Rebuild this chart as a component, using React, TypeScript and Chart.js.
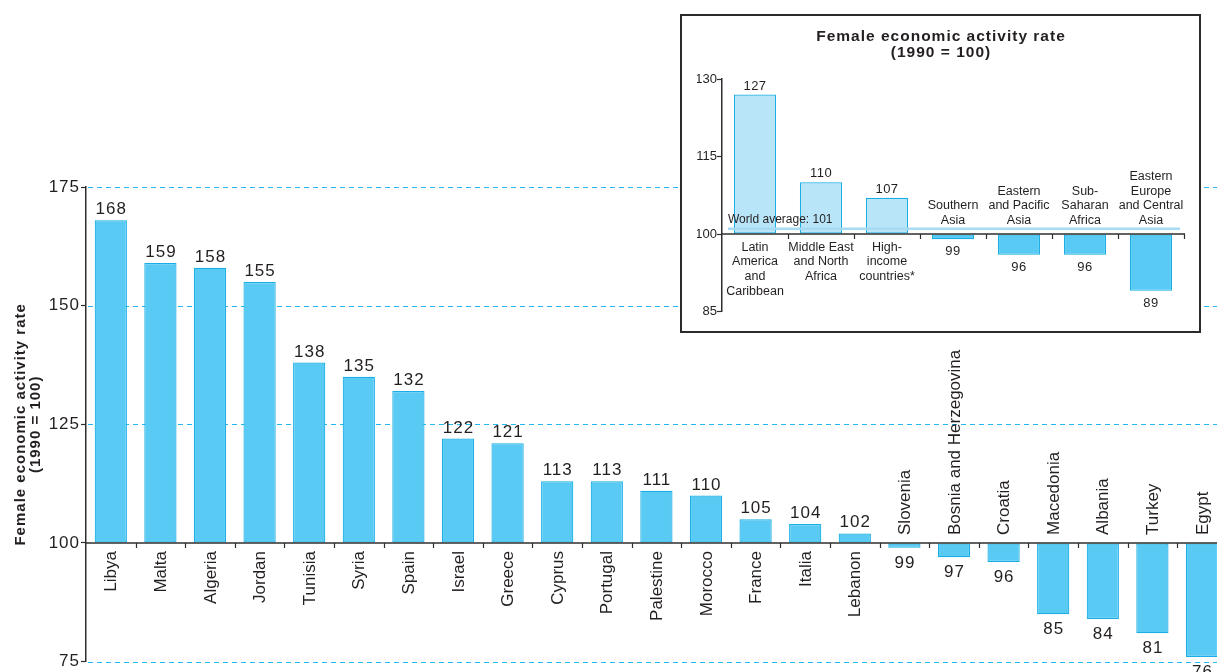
import React, { useEffect, useRef } from 'react';
import { Chart, registerables } from 'chart.js';

Chart.register(...registerables);

const FONT = '"Liberation Sans", Arial, Helvetica, sans-serif';
const TEXT = '#231f20';
const AXIS = '#2e2e2e';
const BAR_FILL = '#58caf4';
const BAR_BORDER = '#1aaee4';
const LIGHT_FILL = '#b9e5f9';
const GRID = '#22b8f0';
const AVG_LINE = '#a6dbf3';

// ---- main chart data ----
const countries = [
  'Libya', 'Malta', 'Algeria', 'Jordan', 'Tunisia', 'Syria', 'Spain', 'Israel',
  'Greece', 'Cyprus', 'Portugal', 'Palestine', 'Morocco', 'France', 'Italia',
  'Lebanon', 'Slovenia', 'Bosnia and Herzegovina', 'Croatia', 'Macedonia',
  'Albania', 'Turkey', 'Egypt',
];
const countryValues = [
  168, 159, 158, 155, 138, 135, 132, 122, 121, 113, 113, 111, 110, 105, 104,
  102, 99, 97, 96, 85, 84, 81, 76,
];
const mainTicks = [75, 100, 125, 150, 175];
const baseValue = 100;
const mainAxisTitle = ['Female economic activity rate', '(1990 = 100)'];

// ---- inset chart data ----
const regions = [
  ['Latin', 'America', 'and', 'Caribbean'],
  ['Middle East', 'and North', 'Africa'],
  ['High-', 'income', 'countries*'],
  ['Southern', 'Asia'],
  ['Eastern', 'and Pacific', 'Asia'],
  ['Sub-', 'Saharan', 'Africa'],
  ['Eastern', 'Europe', 'and Central', 'Asia'],
];
const regionValues = [127, 110, 107, 99, 96, 96, 89];
const insetTicks = [85, 100, 115, 130];
const worldAverage = 101;
const insetTitle = ['Female economic activity rate', '(1990 = 100)'];

const mainLabelsPlugin = {
  id: 'mainLabels',
  beforeDraw(chart: any) {
    chart.ctx.letterSpacing = '1px';
  },
  beforeDatasetsDraw(chart: any) {
    const { ctx, chartArea } = chart;
    const y = chart.scales.y;
    ctx.save();
    ctx.strokeStyle = GRID;
    ctx.lineWidth = 1;
    ctx.setLineDash([5, 4]);
    mainTicks.forEach((t) => {
      if (t === baseValue) return;
      const py = Math.round(y.getPixelForValue(t)) + 0.5;
      ctx.beginPath();
      ctx.moveTo(chartArea.left + 2, py);
      ctx.lineTo(chartArea.right, py);
      ctx.stroke();
    });
    ctx.restore();
  },
  afterDatasetsDraw(chart: any) {
    const { ctx, chartArea } = chart;
    const x = chart.scales.x;
    const y = chart.scales.y;
    const y0 = y.getPixelForValue(baseValue);
    ctx.save();
    ctx.strokeStyle = AXIS;
    ctx.lineWidth = 1.5;
    ctx.beginPath();
    ctx.moveTo(chartArea.left, y0);
    ctx.lineTo(chartArea.right, y0);
    ctx.stroke();
    const slot = (chartArea.right - chartArea.left) / countries.length;
    ctx.lineWidth = 1.2;
    ctx.beginPath();
    for (let k = 1; k <= countries.length; k++) {
      const tx = Math.round(chartArea.left + k * slot) + 0.5;
      ctx.moveTo(tx, y0);
      ctx.lineTo(tx, y0 + 5);
    }
    ctx.stroke();
    ctx.fillStyle = TEXT;
    countries.forEach((name, i) => {
      const cx = x.getPixelForValue(i);
      const v = countryValues[i];
      const yv = y.getPixelForValue(v);
      ctx.font = `17px ${FONT}`;
      ctx.letterSpacing = '1px';
      ctx.textAlign = 'center';
      ctx.textBaseline = 'alphabetic';
      if (v >= baseValue) ctx.fillText(String(v), cx + 0.5, yv - 6);
      else ctx.fillText(String(v), cx + 0.5, yv + 20);
      ctx.letterSpacing = '0px';
      ctx.save();
      ctx.translate(cx + 1, v >= baseValue ? y0 + 8 : y0 - 8);
      ctx.rotate(-Math.PI / 2);
      ctx.textBaseline = 'middle';
      ctx.textAlign = v >= baseValue ? 'right' : 'left';
      ctx.fillText(name, 0, 0);
      ctx.restore();
    });
    ctx.restore();
  },
  afterDraw(chart: any) {
    chart.ctx.letterSpacing = '0px';
  },
};

const insetLabelsPlugin = {
  id: 'insetLabels',
  afterDatasetsDraw(chart: any) {
    const { ctx, chartArea, width } = chart;
    const x = chart.scales.x;
    const y = chart.scales.y;
    const y0 = y.getPixelForValue(baseValue);
    ctx.save();
    // title
    ctx.fillStyle = TEXT;
    ctx.font = `bold 15.5px ${FONT}`;
    ctx.letterSpacing = '1px';
    ctx.textAlign = 'center';
    ctx.textBaseline = 'middle';
    insetTitle.forEach((line, j) => ctx.fillText(line, width / 2 + 0.5, 21 + j * 16));
    ctx.letterSpacing = '0px';
    // world average line
    const ya = y.getPixelForValue(worldAverage);
    ctx.strokeStyle = AVG_LINE;
    ctx.lineWidth = 2.5;
    ctx.beginPath();
    ctx.moveTo(chartArea.left + 6, ya);
    ctx.lineTo(chartArea.right - 4, ya);
    ctx.stroke();
    // baseline
    ctx.strokeStyle = AXIS;
    ctx.lineWidth = 1.5;
    ctx.beginPath();
    ctx.moveTo(chartArea.left, y0);
    ctx.lineTo(chartArea.right + 1, y0);
    ctx.stroke();
    const slot = (chartArea.right - chartArea.left) / regions.length;
    ctx.lineWidth = 1.2;
    ctx.beginPath();
    for (let k = 1; k <= regions.length; k++) {
      const tx = Math.round(chartArea.left + k * slot) + 0.5;
      ctx.moveTo(tx, y0);
      ctx.lineTo(tx, y0 + 5);
    }
    ctx.stroke();
    ctx.font = `12px ${FONT}`;
    ctx.textAlign = 'left';
    ctx.textBaseline = 'alphabetic';
    ctx.fillText(`World average: ${worldAverage}`, chartArea.left + 6, ya - 6);
    regions.forEach((lines, i) => {
      const cx = x.getPixelForValue(i);
      const v = regionValues[i];
      const yv = y.getPixelForValue(v);
      ctx.font = `13px ${FONT}`;
      ctx.letterSpacing = '0.5px';
      ctx.textAlign = 'center';
      ctx.textBaseline = 'alphabetic';
      if (v >= baseValue) ctx.fillText(String(v), cx, yv - 5);
      else ctx.fillText(String(v), cx, yv + 16);
      ctx.letterSpacing = '0px';
      ctx.font = `12.5px ${FONT}`;
      ctx.textBaseline = 'middle';
      const n = lines.length;
      lines.forEach((line, j) => {
        const ly = v >= baseValue ? y0 + 13.3 + j * 14.7 : y0 - 13.3 - (n - 1 - j) * 14.7;
        ctx.fillText(line, cx, ly);
      });
    });
    ctx.restore();
  },
};

export default function App() {
  const mainRef = useRef<HTMLCanvasElement>(null);
  const insetRef = useRef<HTMLCanvasElement>(null);

  useEffect(() => {
    const main = new Chart(mainRef.current as HTMLCanvasElement, {
      type: 'bar',
      data: {
        labels: countries,
        datasets: [
          {
            data: countryValues,
            base: baseValue,
            backgroundColor: BAR_FILL,
            borderColor: BAR_BORDER,
            borderWidth: 1.2,
            borderSkipped: false,
            categoryPercentage: 1,
            barPercentage: 0.65,
          } as any,
        ],
      },
      options: {
        responsive: false,
        animation: false,
        devicePixelRatio: 1,
        layout: { padding: { left: 0, right: 13.2, top: 187, bottom: 10.3 } },
        plugins: {
          legend: { display: false },
          tooltip: { enabled: false },
        },
        scales: {
          x: { display: false, offset: true },
          y: {
            min: 75,
            max: 175,
            afterFit: (s: any) => {
              s.width = 86;
            },
            afterBuildTicks: (s: any) => {
              s.ticks = mainTicks.map((value) => ({ value }));
            },
            grid: {
              drawOnChartArea: false,
              drawTicks: true,
              tickLength: 5,
              tickColor: AXIS,
              tickWidth: 1.2,
            },
            border: { display: true, color: AXIS, width: 1.5 },
            ticks: {
              color: TEXT,
              font: { family: FONT, size: 17, lineHeight: 1.1 },
              padding: 1,
            },
            title: {
              display: true,
              text: mainAxisTitle,
              color: TEXT,
              font: { family: FONT, size: 15, weight: 'bold', lineHeight: 1 },
              padding: { top: 13, bottom: 0 },
            },
          } as any,
        },
      },
      plugins: [mainLabelsPlugin],
    });

    const inset = new Chart(insetRef.current as HTMLCanvasElement, {
      type: 'bar',
      data: {
        labels: regions,
        datasets: [
          {
            data: regionValues,
            base: baseValue,
            backgroundColor: regionValues.map((v) => (v >= baseValue ? LIGHT_FILL : BAR_FILL)),
            borderColor: BAR_BORDER,
            borderWidth: 1.2,
            borderSkipped: false,
            categoryPercentage: 1,
            barPercentage: 0.64,
          } as any,
        ],
      },
      options: {
        responsive: false,
        animation: false,
        devicePixelRatio: 1,
        layout: { padding: { left: 15, right: 15, top: 63, bottom: 19.5 } },
        plugins: {
          legend: { display: false },
          tooltip: { enabled: false },
          title: { display: false },
        },
        scales: {
          x: { display: false, offset: true },
          y: {
            min: 85,
            max: 130,
            afterFit: (s: any) => {
              s.width = 25;
            },
            afterBuildTicks: (s: any) => {
              s.ticks = insetTicks.map((value) => ({ value }));
            },
            grid: {
              drawOnChartArea: false,
              drawTicks: true,
              tickLength: 5,
              tickColor: AXIS,
              tickWidth: 1.2,
            },
            border: { display: true, color: AXIS, width: 1.5 },
            ticks: {
              color: TEXT,
              font: { family: FONT, size: 13, lineHeight: 1.1 },
              padding: 0,
            },
          } as any,
        },
      },
      plugins: [insetLabelsPlugin],
    });

    return () => {
      main.destroy();
      inset.destroy();
    };
  }, []);

  return (
    <div
      style={{
        position: 'fixed',
        left: 0,
        top: 0,
        width: 1217,
        height: 672,
        overflow: 'hidden',
        background: '#fff',
      }}
    >
      <canvas
        ref={mainRef}
        width={1240}
        height={672}
        style={{ position: 'absolute', left: 0, top: 0, width: 1240, height: 672 }}
      />
      <div
        style={{
          position: 'absolute',
          left: 680,
          top: 14,
          width: 517,
          height: 315,
          border: '2px solid #2b2b2b',
          background: '#fff',
        }}
      >
        <canvas ref={insetRef} width={517} height={315} style={{ display: 'block', width: 517, height: 315 }} />
      </div>
    </div>
  );
}
